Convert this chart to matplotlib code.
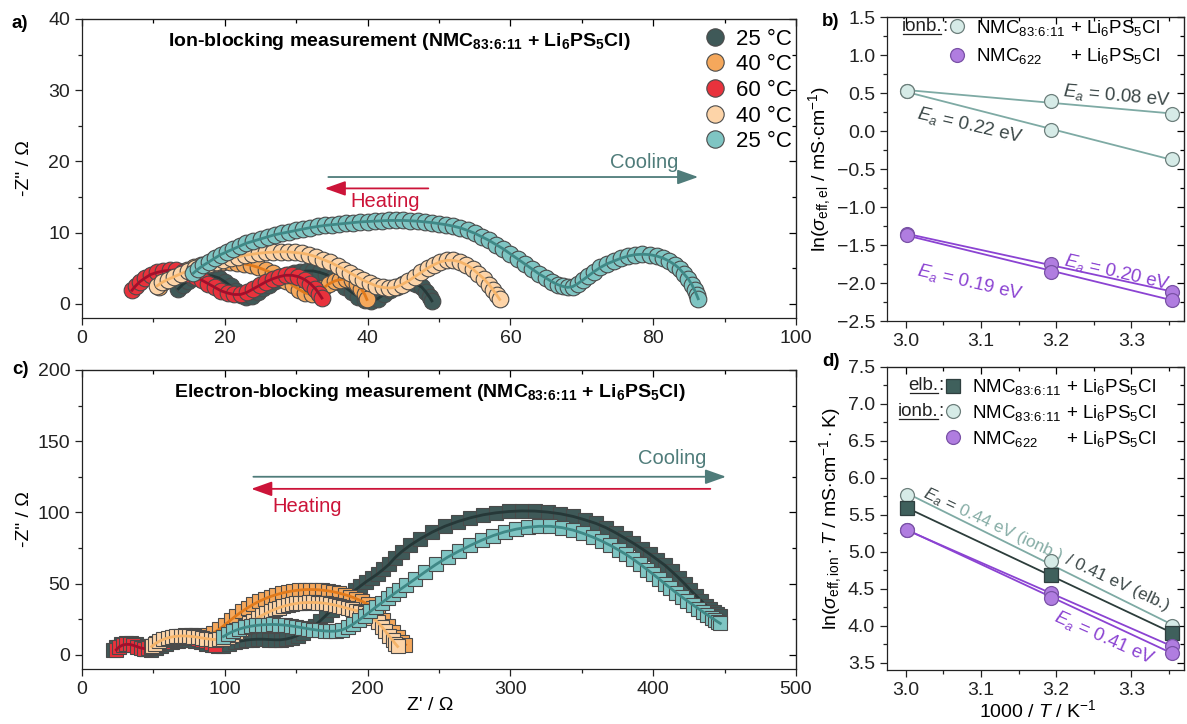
import numpy as np
import matplotlib
matplotlib.use('Agg')
import matplotlib.pyplot as plt
from matplotlib.lines import Line2D
from matplotlib.ticker import MultipleLocator
from matplotlib.transforms import IdentityTransform

plt.rcParams['font.family'] = ['Liberation Sans', 'DejaVu Sans']
plt.rcParams['mathtext.fontset'] = 'custom'
plt.rcParams['mathtext.rm'] = 'Liberation Sans'
plt.rcParams['mathtext.it'] = 'Liberation Sans:italic'
plt.rcParams['mathtext.bf'] = 'Liberation Sans:bold'
plt.rcParams['font.size'] = 14

# ---- a) ion-blocking Nyquist data (Z', -Z'') ----
dark_a = [(13.5,2.1),(14.1,2.7),(14.8,3.2),(15.6,3.6),(16.5,3.9),(17.4,4.0),(18.3,3.9),(19.2,3.6),(20.0,3.1),(20.8,2.5),
          (21.5,1.8),(22.2,1.2),(23.0,0.9),(23.8,1.1),(24.6,1.6),(25.4,2.2),(26.2,2.7),(27.0,3.2),(27.9,3.6),(28.8,4.0),
          (29.7,4.3),(30.6,4.5),(31.5,4.6),(32.4,4.6),(33.3,4.4),(34.2,4.1),(35.1,3.6),(36.0,3.0),(36.9,2.3),(37.8,1.6),
          (38.7,1.0),(39.6,0.5),(40.5,0.4),(41.4,0.7),(42.3,1.3),(43.2,1.9),(44.1,2.4),(45.0,2.8),(45.9,3.0),(46.8,2.8),
          (47.6,2.3),(48.2,1.6),(48.7,0.9),(49.0,0.4)]
orange_a = [(10.8,2.4),(11.4,3.0),(12.1,3.5),(12.9,4.0),(13.8,4.4),(14.7,4.8),(15.7,5.1),(16.7,5.4),(17.7,5.6),(18.7,5.7),
            (19.7,5.8),(20.7,5.8),(21.7,5.7),(22.7,5.6),(23.7,5.4),(24.7,5.1),(25.7,4.7),(26.7,4.3),(27.7,3.8),(28.6,3.2),
            (29.5,2.6),(30.4,2.0),(31.3,1.5),(32.2,1.3),(33.0,1.6),(33.8,2.2),(34.6,2.8),(35.4,3.2),(36.2,3.4),(37.0,3.5),
            (37.8,3.3),(38.5,2.8),(39.1,2.1),(39.6,1.3),(39.9,0.6)]
red_a = [(7.0,1.9),(7.5,2.5),(8.1,3.1),(8.8,3.6),(9.6,4.1),(10.5,4.4),(11.4,4.6),(12.3,4.7),(13.2,4.7),(14.1,4.5),
         (15.0,4.2),(15.9,3.8),(16.8,3.3),(17.7,2.8),(18.6,2.3),(19.5,1.8),(20.4,1.5),(21.3,1.3),(22.2,1.3),(23.1,1.6),
         (24.0,2.1),(24.9,2.6),(25.8,3.1),(26.7,3.5),(27.6,3.8),(28.5,4.0),(29.4,4.0),(30.3,3.8),(31.2,3.4),(32.0,2.8),
         (32.7,2.1),(33.2,1.4),(33.6,0.8)]
peach_a = [(10.5,2.5),(11.2,3.0),(12.0,3.4),(12.9,3.8),(13.8,4.2),(14.8,4.6),(15.8,5.0),(16.8,5.3),(17.8,5.6),(18.8,5.9),
           (19.8,6.2),(20.8,6.4),(21.8,6.6),(22.8,6.8),(23.8,6.95),(24.8,7.1),(25.8,7.2),(26.8,7.25),(27.8,7.3),(28.8,7.3),
           (29.8,7.2),(30.8,7.1),(31.8,6.9),(32.8,6.6),(33.8,6.2),(34.8,5.8),(35.8,5.3),(36.7,4.8),(37.6,4.3),(38.5,3.8),
           (39.4,3.3),(40.3,2.9),(41.2,2.5),(42.1,2.3),(43.0,2.2),(43.9,2.3),(44.8,2.7),(45.7,3.2),(46.6,3.8),(47.5,4.4),
           (48.4,5.0),(49.3,5.5),(50.2,5.9),(51.1,6.1),(52.0,6.1),(52.9,5.9),(53.8,5.5),(54.7,4.9),(55.5,4.2),(56.3,3.5),
           (57.0,2.7),(57.6,1.9),(58.1,1.2),(58.5,0.6)]
teal_a = [(15.6,4.3),(16.3,4.9),(17.0,5.4),(17.8,5.9),(18.6,6.4),(19.4,6.9),(20.3,7.3),(21.2,7.7),(22.1,8.1),(23.0,8.5),
          (24.0,8.8),(25.0,9.1),(26.0,9.4),(27.0,9.7),(28.0,9.9),(29.0,10.1),(30.0,10.3),(31.0,10.5),(32.0,10.7),(33.0,10.85),
          (34.0,11.0),(35.0,11.1),(36.0,11.2),(37.0,11.3),(38.0,11.4),(39.0,11.5),(40.0,11.55),(41.0,11.6),(42.0,11.65),(43.0,11.7),
          (44.0,11.7),(45.0,11.7),(46.0,11.65),(47.0,11.6),(48.0,11.5),(49.0,11.4),(50.0,11.25),(51.0,11.1),(52.0,10.9),(53.0,10.65),
          (54.0,10.3),(55.0,9.9),(56.0,9.4),(57.0,8.9),(58.0,8.3),(59.0,7.7),(60.0,7.0),(61.0,6.3),(62.0,5.6),(63.0,4.9),
          (64.0,4.2),(65.0,3.6),(65.8,3.1),(66.6,2.7),(67.3,2.45),(68.0,2.3),(68.7,2.4),(69.4,2.8),(70.1,3.3),(70.9,3.9),
          (71.7,4.5),(72.6,5.1),(73.5,5.6),(74.5,6.0),(75.5,6.4),(76.5,6.7),(77.5,6.9),(78.5,6.95),(79.5,6.9),(80.5,6.7),
          (81.4,6.4),(82.2,6.0),(83.0,5.5),(83.7,4.9),(84.3,4.2),(84.9,3.5),(85.4,2.7),(85.8,1.9),(86.1,1.2),(86.3,0.7)]

# ---- c) electron-blocking Nyquist data ----
dark_c = [(22,3),(24,5.5),(27,7.5),(30.5,8.5),(34,8.5),(37.5,7.5),(41,5.8),(44.5,4.2),(48,3.5),(51.5,4.5),(55,6.2),(59,7.8),
          (63,9),(67,9.8),(71,10.2),(75,10.2),(79,9.8),(83,9),(87,7.8),(91,6.5),(95,5.8),(99,6.2),(103,7.4),(107,8.6),
          (111,9.6),(115,10.3),(119,10.7),(123,10.9),(127,10.9),(131,10.7),(135,10.5),(139,10.5),(143,11),(147,12),
          (151,13.5),(155,15.5),(159,17.8),(163,20.5),(167,24),(171,27.8),(175,31.5),(179,35),(183,38.6),(187,42),
          (191,45.2),(195,48.3),(199,51.3),(203,54),(207,56.8),(211,60),(215,63.5),(219,68),(224,72.5),(230,77),
          (237,81.5),(245,86),(254,90.2),(263,93.5),(272,96.2),(281,98.3),(290,99.7),(299,100.6),(308,101),(317,100.9),
          (326,100.2),(335,99),(344,97.1),(352,94.8),(360,92.2),(367,89.2),(374,85.5),(380,82),(386,78.4),(392,74.5),
          (398,70.4),(403,66.7),(408,63),(413,58.5),(418,53.8),(422,49.8),(426,45.5),(430,41.5),(433.5,38),(437,34.5),
          (440,31.8),(442.5,29.8),(444.5,28.3),(446.5,27)]
orange_c = [(45,4),(48,6),(52,8),(56,9.8),(60,11.3),(64,12.4),(68,13.2),(72,13.6),(76,13.8),(80,13.7),(84,13.5),(88,13.8),
            (92,15.2),(96,17.8),(100,21),(104,24.3),(108,27.5),(112,30.4),(116,33),(120,35.4),(124,37.5),(128,39.3),
            (132,40.9),(136,42.2),(140,43.3),(144,44.2),(148,44.9),(152,45.4),(156,45.7),(160,45.8),(164,45.7),(168,45.4),
            (172,44.9),(176,44.2),(180,43.3),(184,42.2),(188,40.9),(192,39.4),(196,37.6),(200,35.4),(203.5,32.5),
            (207,28.8),(210.5,24.6),(214,20.3),(217.5,16.2),(221,12.4),(224,9.2),(226.5,7)]
red_c = [(24,3.5),(26,5.5),(28.5,6.8),(31,7.3),(33.5,7.2),(36,6.6),(38.5,5.7),(41,4.8),(43.5,4.3),(46,4.6),(48.5,5.6),
         (51,6.8),(54,8.0),(57,9.2),(60,10.2),(63,11.0),(66,11.6),(69,12.0),(72,12.2),(75,12.2),(78,11.9),(81,11.3),
         (84,10.4),(87,9.3),(90,8.0),(93,6.8)]
peach_c = [(48.8,5.8),(51,7.6),(54,9.4),(57,10.8),(60,11.8),(63,12.5),(66,13),(69,13.2),(72,13.2),(75,13),(78,12.7),
           (81,12.3),(84,11.8),(87,11.3),(90,10.9),(93,10.7),(96,10.8),(99,11.4),(102,12.6),(105,14.2),(108,16),(111,18),
           (114,20),(117,22),(120,24),(123,25.9),(126,27.6),(129,29.2),(132,30.6),(135,31.9),(138,33),(141,34),(144,34.8),
           (147,35.5),(150,36),(153,36.4),(156,36.6),(159,36.7),(162,36.7),(165,36.6),(168,36.4),(171,36),(174,35.5),
           (177,34.9),(180,34.2),(183,33.4),(186,32.6),(189,31.8),(192,31),(195,30.2),(198,29.3),(201,27.8),(204,25.6),
           (207,22.8),(210,19.6),(212.5,16.4),(215,13.2),(217.5,10.2),(219.5,7.6),(221,5.8)]
teal_c = [(99,12.8),(102,14.5),(106,16.5),(110,18),(114,19.2),(118,20),(122,20.6),(126,21),(130,21.2),(134,21.3),
          (138,21.1),(142,20.8),(146,20.3),(150,19.7),(154,19),(158,18.3),(162,17.7),(166,17.1),(170,16.7),(174,16.5),
          (178,16.6),(182,17.4),(186,19.2),(190,21.6),(194,24.4),(198,27.4),(202,30.5),(206,33.6),(210,36.6),(214,39.6),
          (218,42.5),(222,45.3),(227,48.8),(233,53),(240,58),(248,63.5),(256,68.5),(264,72.8),(272,76.8),(280,80.5),
          (288,83.7),(296,86.3),(304,88.2),(312,89.5),(320,90.2),(328,90.2),(336,89.3),(344,87.5),(351,85.2),(358,82.5),
          (364,79.8),(370,76.8),(376,73.4),(381,70.4),(386,67),(391,63.4),(396,59.6),(400,56.5),(404,53.3),(408,50),
          (412,46.8),(416,43.6),(420,40.6),(424,37.7),(428,34.9),(431.5,32.4),(435,30),(438,27.9),(441,25.9),
          (443.5,24.2),(445.5,22.9),(447,22)]

temp_labels = ['25 °C', '40 °C', '60 °C', '40 °C', '25 °C']
temps_C = np.array([60, 40, 25])

# ---- b) ln(sigma_el) ----
b_ionb_1 = [0.53, 0.39, 0.22]
b_ionb_2 = [0.52, 0.01, -0.37]
b_622_1 = [-1.36, -1.75, -2.12]
b_622_2 = [-1.37, -1.85, -2.22]

# ---- d) ln(sigma_ion*T) ----
d_elb = [5.59, 4.68, 3.90]
d_ionb = [5.77, 4.87, 3.99]
d_622_1 = [5.29, 4.44, 3.72]
d_622_2 = [5.30, 4.38, 3.63]

inv_T = 1000 / (temps_C + 273.15)

NMC = r'NMC$_{83\!:\!6\!:\!11}$'
NMC_BF = r'NMC$_{\mathbf{83\!:\!6\!:\!11}}$'

# colours: (face, fit line)
C_DARK = ('#3f5958', '#263838')
C_ORANGE = ('#f5a85c', '#e07a1c')
C_RED = ('#e8323c', '#a10f2b')
C_PEACH = ('#fdd4a8', '#f5b46a')
C_TEAL = ('#7fc5c3', '#3f8886')
EDGE = '#4a4a4a'
LIGHT = '#d6ebe7'
LIGHT_LINE = '#7eaaa4'
PURPLE = '#b07de0'
PURPLE_LINE = '#8b43d2'
ELB = '#3f605c'
ELB_LINE = '#2c3d3b'
TXT_DARK = '#3b4747'
COOL = '#4f7c7a'
HEAT = '#cc1439'

fig = plt.figure(figsize=(11.87, 7.24), dpi=100)
ax_a = fig.add_axes([0.0691, 0.5608, 0.6015, 0.4130])
ax_c = fig.add_axes([0.0691, 0.0760, 0.6015, 0.4130])
ax_b = fig.add_axes([0.7473, 0.5566, 0.2502, 0.4199])
ax_d = fig.add_axes([0.7473, 0.0746, 0.2502, 0.4185])


def style(ax, xmaj, xmin, ymaj, ymin):
    for axis, maj, mn in ((ax.xaxis, xmaj, xmin), (ax.yaxis, ymaj, ymin)):
        axis.set_major_locator(MultipleLocator(maj))
        axis.set_minor_locator(MultipleLocator(mn))
    ax.tick_params(which='both', direction='out', width=0.9, labelsize=14, colors='#222222')
    ax.tick_params(which='major', length=5)
    ax.tick_params(which='minor', length=3)
    for s in ax.spines.values():
        s.set_linewidth(0.9)
        s.set_color('#222222')
    top = ax.secondary_xaxis('top')
    right = ax.secondary_yaxis('right')
    for sec, axis, maj, mn in ((top, top.xaxis, xmaj, xmin), (right, right.yaxis, ymaj, ymin)):
        axis.set_major_locator(MultipleLocator(maj))
        axis.set_minor_locator(MultipleLocator(mn))
        sec.tick_params(which='both', direction='in', width=0.9, labeltop=False, labelright=False)
        sec.tick_params(which='major', length=5)
        sec.tick_params(which='minor', length=3)


def nyquist(ax, pts, colors, marker, ms, z):
    x, y = np.array(pts).T
    ax.plot(x, y, ls='none', marker=marker, ms=ms, mfc=colors[0], mec=EDGE, mew=0.8, zorder=z)
    ax.plot(x, y, '-', color=colors[1], lw=2.0, zorder=z + 0.5)


arrow_kw = dict(arrowstyle='-|>,head_length=0.9,head_width=0.32', lw=1.3, mutation_scale=14, shrinkA=0, shrinkB=0)

# ---------------- a) ----------------
series_a = [dark_a, orange_a, red_a, peach_a, teal_a]
cols = [C_DARK, C_ORANGE, C_RED, C_PEACH, C_TEAL]
for i, (pts, c) in enumerate(zip(series_a, cols)):
    nyquist(ax_a, pts, c, 'o', 12, 2 + i)
ax_a.set_xlim(0, 100)
ax_a.set_ylim(-2, 40)
style(ax_a, 20, 10, 10, 5)
ax_a.set_ylabel('-Z" / Ω', fontsize=14)
ax_a.yaxis.set_label_coords(-0.069, 0.5)
ax_a.text(0.445, 0.923, r'Ion-blocking measurement (' + NMC_BF + r' + Li$_{\mathbf{6}}$PS$_{\mathbf{5}}$Cl)',
          transform=ax_a.transAxes, ha='center', va='center', fontweight='bold', fontsize=14)
handles = [Line2D([], [], ls='none', marker='o', ms=12.5, mfc=c[0], mec=EDGE, mew=0.8) for c in cols]
ax_a.legend(handles, temp_labels, loc='upper right', bbox_to_anchor=(0.994, 0.968), frameon=False, fontsize=16,
            handlelength=1.0, handletextpad=0.45, labelspacing=0.21, borderpad=0, borderaxespad=0)
ax_a.annotate('', xy=(86.3, 17.8), xytext=(34.5, 17.8), arrowprops=dict(color=COOL, **arrow_kw))
ax_a.annotate('', xy=(34.0, 16.2), xytext=(48.5, 16.2), arrowprops=dict(color=HEAT, **arrow_kw))
ax_a.text(78.8, 19.9, 'Cooling', color=COOL, ha='center', va='center', fontsize=14.5)
ax_a.text(42.4, 14.3, 'Heating', color=HEAT, ha='center', va='center', fontsize=14.5)

# ---------------- c) ----------------
series_c = [dark_c, orange_c, red_c, peach_c, teal_c]
for i, (pts, c) in enumerate(zip(series_c, cols)):
    nyquist(ax_c, pts, c, 's', 9.6, 2 + i)
ax_c.set_xlim(0, 500)
ax_c.set_ylim(-10, 200)
style(ax_c, 100, 50, 50, 25)
ax_c.set_ylabel('-Z" / Ω', fontsize=14)
ax_c.yaxis.set_label_coords(-0.069, 0.5)
ax_c.set_xlabel("Z' / Ω", fontsize=14)
ax_c.xaxis.set_label_coords(0.487, -0.095)
ax_c.text(0.487, 0.926, r'Electron-blocking measurement (' + NMC_BF + r' + Li$_{\mathbf{6}}$PS$_{\mathbf{5}}$Cl)',
          transform=ax_c.transAxes, ha='center', va='center', fontweight='bold', fontsize=14)
ax_c.annotate('', xy=(451, 125), xytext=(120, 125), arrowprops=dict(color=COOL, **arrow_kw))
ax_c.annotate('', xy=(118.5, 116.5), xytext=(440, 116.5), arrowprops=dict(color=HEAT, **arrow_kw))
ax_c.text(413.5, 137.5, 'Cooling', color=COOL, ha='center', va='center', fontsize=14.5)
ax_c.text(157.6, 104, 'Heating', color=HEAT, ha='center', va='center', fontsize=14.5)


# ---------------- b) and d) ----------------
def fit_line(ax, y, color, z=2):
    k, b0 = np.polyfit(inv_T, y, 1)
    xx = np.array([inv_T.min(), inv_T.max()])
    ax.plot(xx, k * xx + b0, '-', color=color, lw=1.3, zorder=z)


for y in (b_ionb_1, b_ionb_2):
    fit_line(ax_b, y, LIGHT_LINE)
    ax_b.plot(inv_T, y, ls='none', marker='o', ms=10, mfc=LIGHT, mec='#6d7f7c', mew=0.9, zorder=4)
for y in (b_622_1, b_622_2):
    fit_line(ax_b, y, PURPLE_LINE)
    ax_b.plot(inv_T, y, ls='none', marker='o', ms=10, mfc=PURPLE, mec='#7a52a6', mew=0.9, zorder=4)
ax_b.set_xlim(2.975, 3.37)
ax_b.set_ylim(-2.5, 1.5)
style(ax_b, 0.1, 0.05, 0.5, 0.25)
ax_b.set_ylabel(r'ln($\sigma_{\mathrm{eff,el}}$ / mS$\cdot$cm$^{-1}$)', fontsize=14, labelpad=3)
ea_kw = dict(ha='center', va='center', rotation_mode='anchor', fontsize=13.5)
ax_b.text(3.281, 0.47, r'$E_a$ = 0.08 eV', color=TXT_DARK, rotation=-5, **ea_kw)
ax_b.text(3.085, 0.08, r'$E_a$ = 0.22 eV', color=TXT_DARK, rotation=-13, **ea_kw)
ax_b.text(3.085, -1.99, r'$E_a$ = 0.19 eV', color=PURPLE_LINE, rotation=-13, **ea_kw)
ax_b.text(3.281, -1.86, r'$E_a$ = 0.20 eV', color=PURPLE_LINE, rotation=-13, **ea_kw)

fit_line(ax_d, d_ionb, LIGHT_LINE, z=2)
fit_line(ax_d, d_elb, ELB_LINE, z=2.2)
for y in (d_622_1, d_622_2):
    fit_line(ax_d, y, PURPLE_LINE, z=2.4)
ax_d.plot(inv_T, d_ionb, ls='none', marker='o', ms=10, mfc=LIGHT, mec='#6d7f7c', mew=0.9, zorder=4)
ax_d.plot(inv_T, d_elb, ls='none', marker='s', ms=9.5, mfc=ELB, mec='#2f3f3f', mew=0.9, zorder=4.2)
for y in (d_622_1, d_622_2):
    ax_d.plot(inv_T, y, ls='none', marker='o', ms=10, mfc=PURPLE, mec='#7a52a6', mew=0.9, zorder=4.4)
ax_d.set_xlim(2.975, 3.37)
ax_d.set_ylim(3.4, 7.5)
style(ax_d, 0.1, 0.05, 0.5, 0.25)
ax_d.set_ylabel(r'ln($\sigma_{\mathrm{eff,ion}}\cdot T$ / mS$\cdot$cm$^{-1}\cdot$K)', fontsize=14, labelpad=3)
ax_d.set_xlabel(r'1000 / $T$ / K$^{-1}$', fontsize=14)
ax_d.xaxis.set_label_coords(0.508, -0.095)

# legends of b) and d): two columns so that "+ Li6PS5Cl" lines up
blank = Line2D([], [], ls='none')
li = r'+ Li$_6$PS$_5$Cl'
h_light = Line2D([], [], ls='none', marker='o', ms=10, mfc=LIGHT, mec='#6d7f7c', mew=0.9)
h_purple = Line2D([], [], ls='none', marker='o', ms=10, mfc=PURPLE, mec='#7a52a6', mew=0.9)
h_elb = Line2D([], [], ls='none', marker='s', ms=9.5, mfc=ELB, mec='#2f3f3f', mew=0.9)
leg_kw = dict(ncol=2, loc='upper left', frameon=False, fontsize=13.5, borderpad=0, borderaxespad=0,
              handlelength=0.9, handletextpad=0.55, columnspacing=-1.2)
leg_b = ax_b.legend([h_light, h_purple, blank, blank], [NMC, r'NMC$_{622}$', li, li],
                    bbox_to_anchor=(0.207, 0.997), labelspacing=0.45, **leg_kw)
leg_d = ax_d.legend([h_elb, h_light, h_purple, blank, blank, blank], [NMC, NMC, r'NMC$_{622}$', li, li, li],
                    bbox_to_anchor=(0.195, 0.966), labelspacing=0.3, **leg_kw)

fig.text(0.017, 0.968, 'a)', fontweight='bold', fontsize=13.5, ha='center', va='center')
fig.text(0.700, 0.970, 'b)', fontweight='bold', fontsize=13.5, ha='center', va='center')
fig.text(0.017, 0.489, 'c)', fontweight='bold', fontsize=13.5, ha='center', va='center')
fig.text(0.700, 0.500, 'd)', fontweight='bold', fontsize=13.5, ha='center', va='center')

fig.canvas.draw()
renderer = fig.canvas.get_renderer()


def tag_rows(ax, leg, tags):
    lx = leg.get_window_extent(renderer).x0
    for handle, word in zip(leg.legend_handles, tags):
        if not word:
            continue
        hb = handle.get_window_extent(renderer)
        yc = (hb.y0 + hb.y1) / 2
        colon = ax.text(lx - 1, yc, ':', ha='right', va='center', transform=IdentityTransform(),
                        fontsize=13.5, color='#222222')
        cb = colon.get_window_extent(renderer)
        w = ax.text(cb.x0, yc, word, ha='right', va='center', transform=IdentityTransform(),
                    fontsize=13.5, color='#222222')
        wb = w.get_window_extent(renderer)
        fig.add_artist(Line2D([wb.x0 + 1, wb.x1 - 1], [wb.y0 + 1, wb.y0 + 1], transform=IdentityTransform(),
                              color='#222222', lw=0.9))


def run_text(ax, x, y, pieces, angle, size=13.5):
    px, py = ax.transData.transform((x, y))
    ang = np.deg2rad(angle)
    for s, c in pieces:
        ax.text(px, py, s, color=c, fontsize=size, rotation=angle, rotation_mode='anchor',
                ha='left', va='baseline', transform=IdentityTransform())
        probe = ax.text(0, 0, s, fontsize=size, transform=IdentityTransform())
        wdt = probe.get_window_extent(renderer).width
        probe.remove()
        px += wdt * np.cos(ang)
        py += wdt * np.sin(ang)


tag_rows(ax_b, leg_b, ['ionb.', ''])
tag_rows(ax_d, leg_d, ['elb.', 'ionb.', ''])
run_text(ax_d, 3.022, 5.74, [(r'$E_a$ =', TXT_DARK), (' 0.44 eV (ionb.)', '#86ada6'),
                             (' / 0.41 eV (elb.)', TXT_DARK)], -25, size=12.3)
run_text(ax_d, 3.196, 4.07, [(r'$E_a$ = 0.41 eV', PURPLE_LINE)], -24)

fig.savefig('out.png', dpi=100)
